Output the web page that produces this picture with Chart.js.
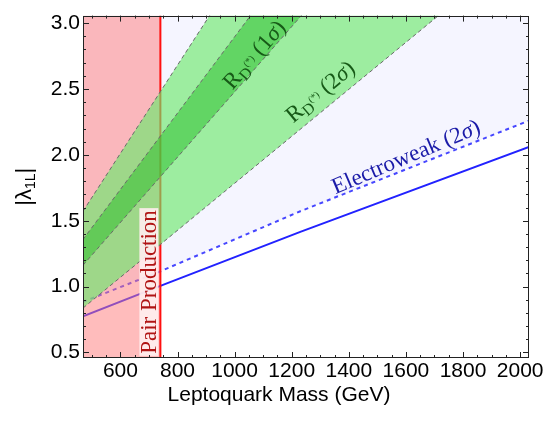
<!DOCTYPE html>
<html>
<head>
<meta charset="utf-8">
<script src="https://cdn.jsdelivr.net/npm/chart.js@4.4.0/dist/chart.umd.min.js"></script>
<style>
html, body { margin: 0; padding: 0; background: #fff; }
canvas { display: block; }
</style>
</head>
<body>
<canvas id="lq" width="557" height="422"></canvas>
<script>
// axes
var xMin = 469, xMax = 2031;
var yMin = 0.458, yMax = 3.057;
var xTickValues = [600, 800, 1000, 1200, 1400, 1600, 1800, 2000];
var yTickValues = [0.5, 1.0, 1.5, 2.0, 2.5, 3.0];

// pair production bound (GeV)
var pairLimit = 740;

// electroweak constraint
var ewMass = [469, 740, 1230, 2031];
var ewCentral = [0.774, 1.005, 1.415, 2.061];
var ew2Sigma = [0.884, 1.116, 1.572, 2.260];

// R_D(*) bands
var bandMass = [469, 740, 1000, 1720];
var rd2Low = [0.837, 1.320, 1.784, 3.068];
var rd2High = [1.572, 2.480, 3.351, 5.764];
var rd1Low = [1.162, 1.834, 2.478, 4.262];
var rd1High = [1.358, 2.143, 2.896, 4.981];

function pts(xs, ys) {
  var out = [];
  for (var i = 0; i < xs.length; i++) out.push({x: xs[i], y: ys[i]});
  return out;
}

var serif = '"Liberation Serif", "Times New Roman", serif';
var sans = '"Liberation Sans", Arial, sans-serif';

// draws a run of text pieces rotated about its centre
function drawRun(ctx, cx, cy, deg, parts, color) {
  ctx.save();
  ctx.translate(cx, cy);
  ctx.rotate(-deg * Math.PI / 180);
  ctx.fillStyle = color;
  ctx.textBaseline = 'alphabetic';
  ctx.textAlign = 'left';
  var total = 0;
  parts.forEach(function(p) { ctx.font = p.font; p.w = ctx.measureText(p.t).width; total += p.w; });
  var x = -total / 2;
  parts.forEach(function(p) {
    ctx.font = p.font;
    ctx.fillText(p.t, x, 7 + (p.dy || 0));
    x += p.w;
  });
  ctx.restore();
}

function rdParts(n) {
  return [
    {t: 'R', font: '23px ' + serif},
    {t: 'D', font: '16px ' + serif, dy: 4},
    {t: '(*)', font: '10px ' + serif, dy: -4},
    {t: ' (' + n, font: '23px ' + serif},
    {t: '\u03C3', font: 'italic 23px ' + serif},
    {t: ')', font: '23px ' + serif}
  ];
}

var decor = {
  id: 'decor',
  afterDatasetsDraw: function(chart) {
    var ctx = chart.ctx, xs = chart.scales.x, ys = chart.scales.y;
    var a = chart.chartArea;
    ctx.save();
    ctx.beginPath();
    ctx.rect(a.left, a.top, a.right - a.left, a.bottom - a.top);
    ctx.clip();

    // band and constraint labels
    drawRun(ctx, xs.getPixelForValue(1069), ys.getPixelForValue(2.76), 49, rdParts('1'), '#175a17');
    drawRun(ctx, xs.getPixelForValue(1300), ys.getPixelForValue(2.48), 40, rdParts('2'), '#175a17');
    drawRun(ctx, xs.getPixelForValue(1600), ys.getPixelForValue(1.985), 23, [
      {t: 'Electroweak (2', font: '23px ' + serif},
      {t: '\u03C3', font: 'italic 23px ' + serif},
      {t: ')', font: '23px ' + serif}
    ], '#1a1aa8');

    // pair production label
    var px = xs.getPixelForValue(pairLimit) - 11;
    var py = 282;
    ctx.save();
    ctx.translate(px, py);
    ctx.rotate(-Math.PI / 2);
    ctx.font = '23px ' + serif;
    var w = ctx.measureText('Pair Production').width;
    ctx.fillStyle = 'rgba(255,238,238,0.92)';
    ctx.fillRect(-w / 2 - 2, -10, w + 4, 19);
    ctx.fillStyle = '#b01414';
    ctx.textAlign = 'center';
    ctx.textBaseline = 'alphabetic';
    ctx.fillText('Pair Production', 0, 7);
    ctx.restore();
    ctx.restore();
  },
  afterDraw: function(chart) {
    var ctx = chart.ctx, xs = chart.scales.x, ys = chart.scales.y;
    var a = chart.chartArea;
    ctx.save();
    ctx.strokeStyle = '#222';
    ctx.lineWidth = 1;
    ctx.strokeRect(Math.round(a.left) + 0.5, Math.round(a.top) + 0.5,
      Math.round(a.right - a.left) - 1, Math.round(a.bottom - a.top) - 1);

    ctx.beginPath();
    var v, p, len;
    for (v = 450; v <= xMax; v += 50) {
      if (v < xMin) continue;
      p = Math.round(xs.getPixelForValue(v)) + 0.5;
      len = (v % 200 === 0) ? 6 : 3;
      ctx.moveTo(p, a.bottom); ctx.lineTo(p, a.bottom - len);
      ctx.moveTo(p, a.top); ctx.lineTo(p, a.top + len);
    }
    for (var k = 5; k <= 30; k++) {
      v = k / 10;
      p = Math.round(ys.getPixelForValue(v)) + 0.5;
      len = (k % 5 === 0) ? 6 : 3;
      ctx.moveTo(a.left, p); ctx.lineTo(a.left + len, p);
      ctx.moveTo(a.right, p); ctx.lineTo(a.right - len, p);
    }
    ctx.stroke();

    // axis titles
    ctx.fillStyle = '#000';
    ctx.font = '21px ' + sans;
    ctx.textAlign = 'center';
    ctx.textBaseline = 'middle';
    ctx.fillText('Leptoquark Mass (GeV)', 279, 395);

    ctx.translate(23, (a.top + a.bottom) / 2);
    ctx.rotate(-Math.PI / 2);
    ctx.textAlign = 'left';
    ctx.textBaseline = 'alphabetic';
    var parts = [
      {t: '|\u03BB', font: '22px ' + sans, dy: 0},
      {t: '1L', font: '14px ' + sans, dy: 4},
      {t: '|', font: '22px ' + sans, dy: 0}
    ];
    var tot = 0;
    parts.forEach(function(q) { ctx.font = q.font; q.w = ctx.measureText(q.t).width; tot += q.w; });
    var x0 = -tot / 2;
    parts.forEach(function(q) { ctx.font = q.font; ctx.fillText(q.t, x0, 8 + q.dy); x0 += q.w; });
    ctx.restore();
  }
};

var dashGray = {borderColor: '#6a6a6a', borderWidth: 1, borderDash: [4, 3]};

new Chart(document.getElementById('lq'), {
  type: 'line',
  data: {
    datasets: [
      {
        label: 'Electroweak (2 sigma)', data: pts(ewMass, ew2Sigma),
        borderColor: '#4646ff', borderWidth: 2, borderDash: [4, 4],
        fill: 'end', backgroundColor: '#f5f5ff', order: 10
      },
      {
        label: 'Electroweak', data: pts(ewMass, ewCentral),
        borderColor: '#2222ff', borderWidth: 2, fill: false, order: 9
      },
      {
        label: 'Pair production', data: [{x: xMin, y: yMax}, {x: pairLimit, y: yMax}],
        borderWidth: 0, borderColor: 'rgba(0,0,0,0)',
        fill: 'start', backgroundColor: 'rgba(255,121,121,0.5)', order: 8
      },
      {
        label: 'Pair production limit', data: [{x: pairLimit, y: yMin}, {x: pairLimit, y: yMax}],
        borderColor: '#ff1010', borderWidth: 2, fill: false, order: 7
      },
      Object.assign({
        label: 'RD 2 sigma high', data: pts(bandMass, rd2High),
        fill: 5, backgroundColor: 'rgba(109,232,109,0.65)', order: 6
      }, dashGray),
      Object.assign({
        label: 'RD 2 sigma low', data: pts(bandMass, rd2Low), fill: false, order: 5
      }, dashGray),
      Object.assign({
        label: 'RD 1 sigma high', data: pts(bandMass, rd1High),
        fill: 7, backgroundColor: 'rgba(40,190,40,0.5)', order: 4
      }, dashGray),
      Object.assign({
        label: 'RD 1 sigma low', data: pts(bandMass, rd1Low), fill: false, order: 3
      }, dashGray)
    ]
  },
  options: {
    responsive: false,
    animation: false,
    layout: {padding: {top: 3, right: 28, left: 0, bottom: 0}},
    elements: {point: {radius: 0}, line: {tension: 0}},
    plugins: {legend: {display: false}, tooltip: {enabled: false}},
    scales: {
      x: {
        type: 'linear', min: xMin, max: xMax,
        grid: {display: false, drawTicks: false},
        border: {display: false},
        afterBuildTicks: function(s) { s.ticks = xTickValues.map(function(v) { return {value: v}; }); },
        afterFit: function(s) { s.height = 64; },
        ticks: {color: '#000', padding: 1, font: {family: sans, size: 21}, maxRotation: 0, autoSkip: false,
          callback: function(v) { return String(v); }}
      },
      y: {
        type: 'linear', min: yMin, max: yMax,
        grid: {display: false, drawTicks: false},
        border: {display: false},
        afterBuildTicks: function(s) { s.ticks = yTickValues.map(function(v) { return {value: v}; }); },
        afterFit: function(s) { s.width = 83; },
        ticks: {color: '#000', padding: 3, font: {family: sans, size: 21},
          callback: function(v) { return v.toFixed(1); }}
      }
    }
  },
  plugins: [decor]
});
</script>
</body>
</html>
